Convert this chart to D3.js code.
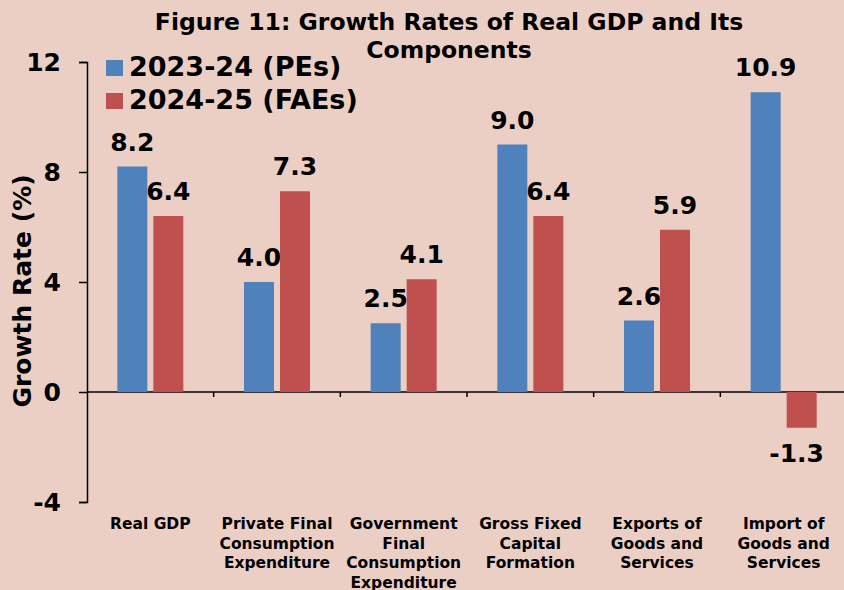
<!DOCTYPE html>
<html>
<head>
<meta charset="utf-8">
<script src="https://cdn.jsdelivr.net/npm/d3@7"></script>
<style>
  html, body { margin: 0; padding: 0; background: #ebcfc4; }
  svg { display: block; font-family: "DejaVu Sans", Verdana, sans-serif; font-weight: bold; }
</style>
</head>
<body>
<div id="chart"></div>
<script>
// Chart data.
const categories = [
  ["Real GDP"],
  ["Private Final", "Consumption", "Expenditure"],
  ["Government", "Final", "Consumption", "Expenditure"],
  ["Gross Fixed", "Capital", "Formation"],
  ["Exports of", "Goods and", "Services"],
  ["Import of", "Goods and", "Services"],
];
const seriesNames = ["2023-24 (PEs)", "2024-25 (FAEs)"];
const values2324 = [8.2, 4.0, 2.5, 9.0, 2.6, 10.9];
const values2425 = [6.4, 7.3, 4.1, 6.4, 5.9, -1.3];
const yTicks = [-4, 0, 4, 8, 12];
const colors = ["#4f81bd", "#c0504d"];

/**
 * SVG container.
 */
const width = 844;
const height = 590;
const svg = d3.select("#chart").append("svg").attr("width", width).attr("height", height);

svg.append("rect").attr("width", width).attr("height", height).attr("fill", "#ebcfc4");

/**
 * Scales.
 */
const x = d3.scaleBand().domain(d3.range(categories.length)).range([87, 847]).padding(0);
const y = d3.scaleLinear().domain([-4, 12]).range([502, 62]);

const barWidth = 30;
const barGap = 6;
const series = [values2324, values2425];

/**
 * Title.
 */
svg.append("text")
  .attr("x", 449).attr("y", 30)
  .attr("text-anchor", "middle")
  .style("font-size", "23.5px")
  .text("Figure 11: Growth Rates of Real GDP and Its");
svg.append("text")
  .attr("x", 449).attr("y", 58)
  .attr("text-anchor", "middle")
  .style("font-size", "23.5px")
  .text("Components");

/**
 * Axes.
 */
const yAxis = svg.append("g")
  .attr("transform", "translate(87,0)")
  .call(d3.axisLeft(y).tickValues(yTicks).tickSize(8).tickPadding(18).tickFormat((d) => String(d)));
yAxis.select(".domain").attr("stroke", "#000").attr("stroke-width", 1.5);
yAxis.selectAll(".tick line").attr("stroke", "#000").attr("stroke-width", 1.5);
yAxis.selectAll(".tick text")
  .attr("fill", "#000")
  .style("font-size", "25px")
  .style("font-family", "DejaVu Sans")
  .style("font-weight", "bold");

// Category boundary ticks on the zero line.
const zeroAxis = svg.append("g");
zeroAxis.append("line")
  .attr("x1", x.range()[0]).attr("x2", x.range()[1])
  .attr("y1", y(0)).attr("y2", y(0))
  .attr("stroke", "#000").attr("stroke-width", 1.5);
zeroAxis.selectAll(".cat-tick")
  .data(d3.range(1, categories.length))
  .enter()
  .append("line")
  .attr("x1", (d) => x(d)).attr("x2", (d) => x(d))
  .attr("y1", y(0)).attr("y2", y(0) + 5)
  .attr("stroke", "#000").attr("stroke-width", 1.5);

// Y axis title.
svg.append("text")
  .attr("transform", `translate(31,291) rotate(-90)`)
  .attr("text-anchor", "middle")
  .style("font-size", "25px")
  .text("Growth Rate (%)");

/**
 * Bars.
 */
series.forEach((vals, s) => {
  const xOff = (i) => x(i) + x.bandwidth() / 2 + (s === 0 ? -barGap / 2 - barWidth : barGap / 2);
  svg.append("g")
    .selectAll("rect")
    .data(vals)
    .enter()
    .append("rect")
    .attr("x", (d, i) => xOff(i))
    .attr("y", (d) => y(Math.max(0, d)))
    .attr("width", barWidth)
    .attr("height", (d) => Math.abs(y(d) - y(0)))
    .attr("fill", colors[s]);

  // Value labels.
  svg.append("g")
    .selectAll("text")
    .data(vals)
    .enter()
    .append("text")
    .attr("x", (d, i) => xOff(i) + barWidth / 2 + (d < 0 ? -5 : 0))
    .attr("y", (d) => (d >= 0 ? y(d) - 16 : y(d) + 34))
    .attr("text-anchor", "middle")
    .style("font-size", "25px")
    .text((d) => d.toFixed(1));
});

/**
 * Category labels.
 */
const catLabels = svg.append("g")
  .selectAll("text")
  .data(categories)
  .enter()
  .append("text")
  .attr("text-anchor", "middle")
  .attr("x", (d, i) => x(i) + x.bandwidth() / 2)
  .attr("y", 529)
  .style("font-size", "15.5px");
catLabels.selectAll("tspan")
  .data((d) => d)
  .enter()
  .append("tspan")
  .attr("x", function () { return d3.select(this.parentNode).attr("x"); })
  .attr("dy", (d, i) => (i === 0 ? 0 : 19.5))
  .text((d) => d);

/**
 * Legend.
 */
const legend = svg.append("g")
  .selectAll("g")
  .data(seriesNames)
  .enter()
  .append("g")
  .attr("transform", (d, i) => `translate(106,${60 + i * 33})`);
legend.append("rect")
  .attr("width", 17).attr("height", 16)
  .attr("fill", (d, i) => colors[i]);
legend.append("text")
  .attr("x", 23).attr("y", 16)
  .style("font-size", "27px")
  .text((d) => d);
</script>
</body>
</html>
